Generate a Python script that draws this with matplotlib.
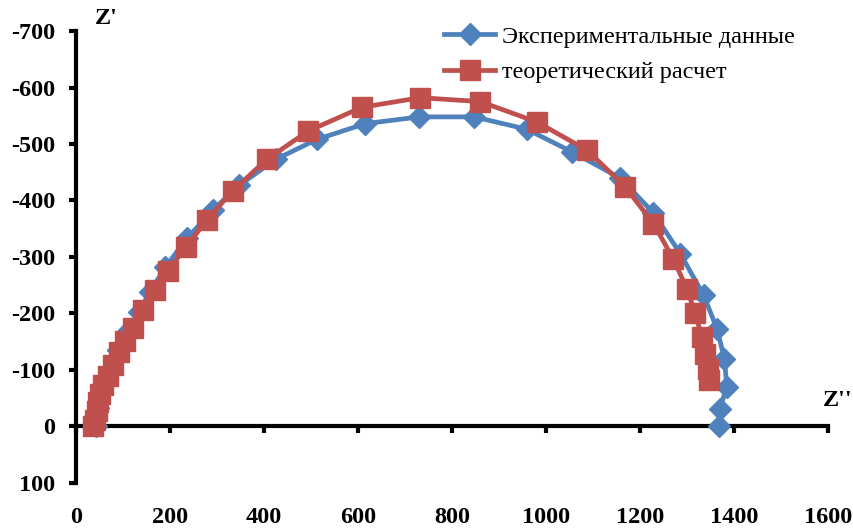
import matplotlib
matplotlib.use("Agg")
import matplotlib.pyplot as plt

plt.rcParams["axes.unicode_minus"] = False

# experimental data (Z'', Z')
exp_re = [42, 47, 56, 71, 90, 113, 133, 157, 190, 236, 291, 347, 425, 512,
          615, 730, 847, 959, 1055, 1157, 1228, 1285, 1335, 1363, 1379, 1384, 1369, 1367]
exp_im = [0, -32, -64, -99, -135, -170, -202, -238, -282, -333, -383, -427, -473, -508,
          -536, -548, -548, -526, -486, -440, -378, -306, -232, -173, -120, -70, -31, 0]

# theoretical fit
fit_re = [37, 40, 44, 47, 51, 58, 67, 79, 91, 104, 122, 143, 168, 196, 234, 278,
          333, 406, 494, 608, 732, 860, 980, 1087, 1168, 1228, 1270, 1299, 1317,
          1331, 1338, 1345, 1347]
fit_im = [0, -11, -28, -43, -58, -73, -90, -108, -132, -151, -175, -206, -241, -276,
          -318, -365, -417, -473, -523, -565, -582, -575, -539, -489, -424, -359, -297,
          -244, -200, -158, -129, -102, -82]

blue = "#4F81BD"
red = "#C0504D"
serif = "Liberation Serif"

fig = plt.figure(figsize=(8.54, 5.30), dpi=100)
ax = fig.add_axes([0.089, 0.0887, 0.881, 0.8528])

ax.plot(exp_re, exp_im, color=blue, lw=3.4, marker="D", ms=11, mec=blue,
        label="Экспериментальные данные", clip_on=False, zorder=3)
ax.plot(fit_re, fit_im, color=red, lw=3.4, marker="s", ms=14, mec=red,
        label="теоретический расчет", clip_on=False, zorder=4)

ax.set_xlim(0, 1600)
ax.set_ylim(100, -700)
ax.set_xticks(range(0, 1601, 200))
ax.set_yticks(range(-700, 101, 100))

for s in ("top", "right"):
    ax.spines[s].set_visible(False)
ax.spines["bottom"].set_position(("data", 0))
ax.spines["bottom"].set_linewidth(3)
ax.spines["left"].set_linewidth(3)
ax.spines["bottom"].set_zorder(1)

ax.tick_params(axis="both", direction="out", length=5, width=3)
ax.tick_params(axis="y", pad=10)
ax.tick_params(axis="x", pad=53)
for lab in ax.get_xticklabels() + ax.get_yticklabels():
    lab.set_fontfamily(serif)
    lab.set_fontweight("bold")
    lab.set_fontsize(17.5)

fig.text(106 / 854, 1 - 18 / 530, "Z'", family=serif, weight="bold",
         fontsize=17.5, ha="center", va="center")
fig.text(838 / 854, 1 - 400 / 530, "Z''", family=serif, weight="bold",
         fontsize=17.5, ha="center", va="center")

leg = ax.legend(loc="upper right", bbox_to_anchor=(0.985, 1.06), frameon=False,
                prop={"family": serif, "size": 17.5}, handlelength=2.1,
                handletextpad=0.3, labelspacing=0.55)

fig.savefig("out.png", dpi=100)
